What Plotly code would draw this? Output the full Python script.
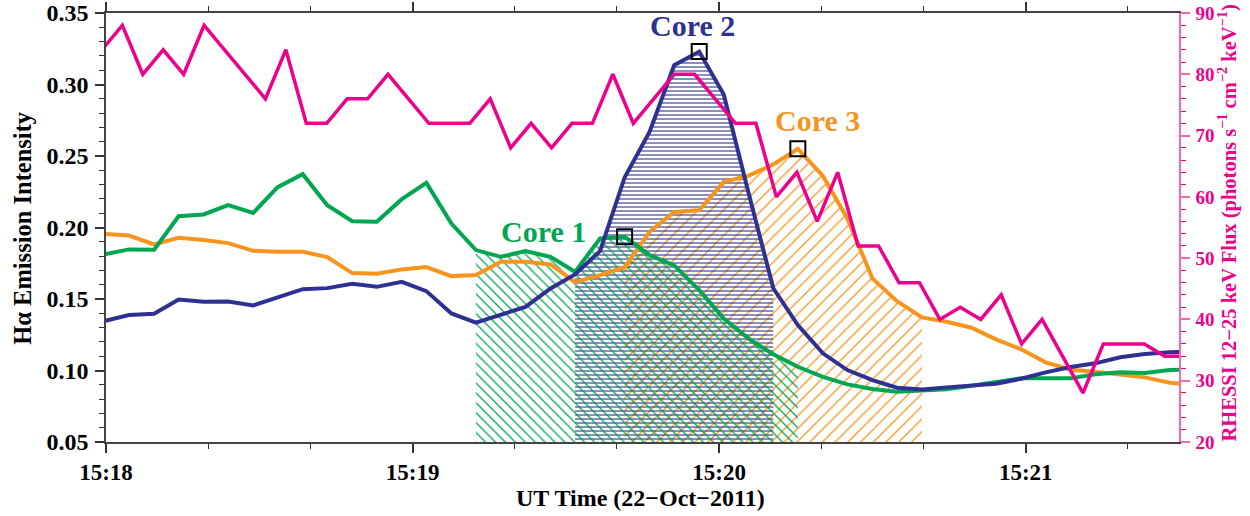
import plotly.graph_objects as go

# ---------------- data ----------------
# H-alpha sampling times (seconds after 15:18:00 UT)
ha_time = [-0.3, 4.5, 9.4, 14.2, 19.1, 23.9, 28.8, 33.6, 38.5, 43.3, 48.2, 53.0, 57.9,
           62.7, 67.6, 72.4, 77.3, 82.1, 87.0, 91.8, 96.7, 101.5, 106.4, 111.2, 116.1,
           120.9, 125.7, 130.6, 135.4, 140.3, 145.1, 150.0, 154.8, 159.7, 164.5, 169.4,
           174.2, 179.1, 183.9, 188.8, 193.6, 198.5, 203.3, 208.2, 213.0]

core1 = [0.1812, 0.1847, 0.1844, 0.2079, 0.2091, 0.2156, 0.2102, 0.2282, 0.2373, 0.2156,
         0.2044, 0.2040, 0.2198, 0.2312, 0.2028, 0.1842, 0.1795, 0.1835, 0.1795, 0.1690,
         0.1924, 0.1935, 0.1807, 0.1735, 0.1562, 0.1364, 0.1225, 0.1113, 0.1026, 0.0956,
         0.0903, 0.0870, 0.0852, 0.0857, 0.0868, 0.0893, 0.0921, 0.0945, 0.0945, 0.0945,
         0.0973, 0.0987, 0.0982, 0.1003, 0.1010]

core2 = [0.1346, 0.1388, 0.1397, 0.1497, 0.1480, 0.1483, 0.1455, 0.1513, 0.1569, 0.1576,
         0.1606, 0.1585, 0.1620, 0.1555, 0.1399, 0.1334, 0.1388, 0.1445, 0.1574, 0.1672,
         0.1836, 0.2350, 0.2670, 0.3135, 0.3230, 0.2930, 0.2250, 0.1575, 0.1318, 0.1120,
         0.1003, 0.0933, 0.0880, 0.0868, 0.0882, 0.0896, 0.0907, 0.0942, 0.0987, 0.1024,
         0.1050, 0.1092, 0.1115, 0.1127, 0.1135]

core3 = [0.1956, 0.1944, 0.1882, 0.1928, 0.1912, 0.1891, 0.1837, 0.1830, 0.1830, 0.1793,
         0.1681, 0.1676, 0.1707, 0.1723, 0.1660, 0.1667, 0.1760, 0.1760, 0.1742, 0.1618,
         0.1667, 0.1722, 0.1970, 0.2109, 0.2121, 0.2319, 0.2361, 0.2441, 0.2550, 0.2361,
         0.2063, 0.1644, 0.1485, 0.1371, 0.1341, 0.1299, 0.1218, 0.1148, 0.1057, 0.1005,
         0.0991, 0.0968, 0.0952, 0.0914, 0.0900]

# RHESSI 12-25 keV sampling times (seconds after 15:18:00 UT) and flux
hxr_time = [-0.8, 3.2, 7.2, 11.2, 15.2, 19.2, 23.2, 27.2, 31.2, 35.2, 39.2, 43.2, 47.2,
            51.2, 55.2, 59.2, 63.2, 67.2, 71.2, 75.2, 79.2, 83.2, 87.2, 91.2, 95.2, 99.2,
            103.2, 107.2, 111.2, 115.2, 119.2, 123.2, 127.2, 131.2, 135.2, 139.2, 143.2,
            147.2, 151.2, 155.2, 159.2, 163.2, 167.2, 171.2, 175.2, 179.2, 183.2, 187.2,
            191.2, 195.2, 199.2, 203.2, 207.2, 211.2]
hxr_flux = [84, 88, 80, 84, 80, 88, 84, 80, 76, 84, 72, 72, 76, 76, 80, 76, 72, 72, 72, 76,
            68, 72, 68, 72, 72, 80, 72, 76, 80, 80, 76, 72, 72, 60, 64, 56, 64, 52, 52, 46,
            46, 40, 42, 40, 44, 36, 40, 34, 28, 36, 36, 36, 34, 34]

# shaded (hatched) intervals: index ranges into ha_time
core1_span = (15, 28)
core2_span = (19, 27)
core3_span = (21, 33)
# peak sample index of each core
core1_peak, core2_peak, core3_peak = 21, 24, 28

core_names = ["Core 1", "Core 2", "Core 3"]
core_label_pos = [(85.6, 0.1975), (114.8, 0.3415), (139.3, 0.2750)]

x_tickvals = [0, 60, 120, 180]
x_ticktext = ["15:18", "15:19", "15:20", "15:21"]

# ---------------- style ----------------
GREEN = "#00A651"
NAVY = "#2E3192"
ORANGE = "#F7941D"
PINK = "#EC008C"
FONT = "Liberation Serif"

fig = go.Figure()

def hatch(series, span, color, shape, size, solidity, opacity=1.0):
    a, b = span
    fig.add_trace(go.Scatter(
        x=ha_time[a:b + 1], y=series[a:b + 1], mode="lines",
        line=dict(width=0, color=color), fill="tozeroy",
        fillcolor="rgba(0,0,0,0)",
        fillpattern=dict(shape=shape, fgcolor=color, bgcolor="rgba(0,0,0,0)",
                         size=size, solidity=solidity, fillmode="replace",
                         fgopacity=opacity),
        hoverinfo="skip", showlegend=False))

hatch(core3, core3_span, ORANGE, "/", 9, 0.14)
hatch(core2, core2_span, NAVY, "-", 4, 0.35, 0.8)
hatch(core1, core1_span, GREEN, "\\", 7, 0.18)

for series, color in [(core3, ORANGE), (core1, GREEN), (core2, NAVY)]:
    fig.add_trace(go.Scatter(x=ha_time, y=series, mode="lines",
                             line=dict(color=color, width=4), showlegend=False))

fig.add_trace(go.Scatter(
    x=[ha_time[core1_peak], ha_time[core2_peak], ha_time[core3_peak]],
    y=[core1[core1_peak], core2[core2_peak], core3[core3_peak]],
    mode="markers",
    marker=dict(symbol="square-open", size=15, color="black", line=dict(width=2, color="black")),
    showlegend=False))

fig.add_trace(go.Scatter(x=hxr_time, y=hxr_flux, mode="lines", yaxis="y2",
                         line=dict(color=PINK, width=3.5), showlegend=False))

for name, (tx, ty), color in zip(core_names, core_label_pos, [GREEN, NAVY, ORANGE]):
    fig.add_annotation(x=tx, y=ty, xref="x", yref="y", text=name, showarrow=False,
                       xanchor="center", yanchor="middle",
                       font=dict(family=FONT, size=30, color=color, weight="bold"))

# axis titles
fig.add_annotation(x=-0.078, y=0.5, xref="paper", yref="paper", textangle=-90,
                   xanchor="center", yanchor="middle",
                   text="Hα Emission Intensity", showarrow=False,
                   font=dict(family=FONT, size=24.5, color="black", weight="bold"))
fig.add_annotation(x=0.4985, y=-0.13, xref="paper", yref="paper",
                   xanchor="center", yanchor="middle",
                   text="UT Time (22\u2212Oct\u22122011)", showarrow=False,
                   font=dict(family=FONT, size=24, color="black", weight="bold"))
fig.add_annotation(x=1.045, y=0.51, xref="paper", yref="paper", textangle=-90,
                   xanchor="center", yanchor="middle",
                   text="RHESSI 12\u221225 keV Flux (photons s<sup>\u22121</sup> cm<sup>\u22122</sup> keV<sup>\u22121</sup>)",
                   showarrow=False,
                   font=dict(family=FONT, size=20.5, color=PINK, weight="bold"))

fig.update_layout(
    width=1250, height=516,
    margin=dict(l=106, r=71, t=13, b=74, autoexpand=False),
    paper_bgcolor="white", plot_bgcolor="white",
    font=dict(family=FONT, color="black"),
    xaxis=dict(range=[0, 210], tickvals=x_tickvals, ticktext=x_ticktext,
               ticks="outside", ticklen=9, tickwidth=1.5, tickcolor="#333",
               showline=True, linecolor="#444", linewidth=1.5, mirror="ticks",
               showgrid=False, zeroline=False, ticklabelstandoff=0, automargin=False,
               ticklabeloverflow="allow",
               tickfont=dict(family=FONT, size=23, color="black", weight="bold"),
               minor=dict(dtick=20, tick0=0, ticks="outside", ticklen=5, tickwidth=1.2,
                          tickcolor="#333", showgrid=False)),
    yaxis=dict(range=[0.05, 0.35], dtick=0.05, tick0=0.05, tickformat=".2f",
               ticks="outside", ticklen=9, tickwidth=1.5, tickcolor="#333",
               showline=True, linecolor="#444", linewidth=1.5,
               showgrid=False, zeroline=False, ticklabelstandoff=2, automargin=False,
               ticklabeloverflow="allow",
               tickfont=dict(family=FONT, size=24, color="black", weight="bold"),
               minor=dict(dtick=0.01, tick0=0.05, ticks="outside", ticklen=5, tickwidth=1.2,
                          tickcolor="#333", showgrid=False)),
    yaxis2=dict(range=[20, 90], dtick=10, tick0=20, overlaying="y", side="right",
                ticks="outside", ticklen=9, tickwidth=1.5, tickcolor="#F06AB2",
                showline=True, linecolor="#F06AB2", linewidth=1.5,
                showgrid=False, zeroline=False, ticklabelstandoff=2, automargin=False,
                ticklabeloverflow="allow",
                tickfont=dict(family=FONT, size=19, color=PINK, weight="bold"),
                minor=dict(dtick=2, tick0=20, ticks="outside", ticklen=5, tickwidth=1.2,
                           tickcolor=PINK, showgrid=False)),
)

# remove the default 8 px page margin so the figure fills the window exactly
fig.write_html("out.html", config={"displayModeBar": False},
               post_script="document.body.style.margin='0';")
